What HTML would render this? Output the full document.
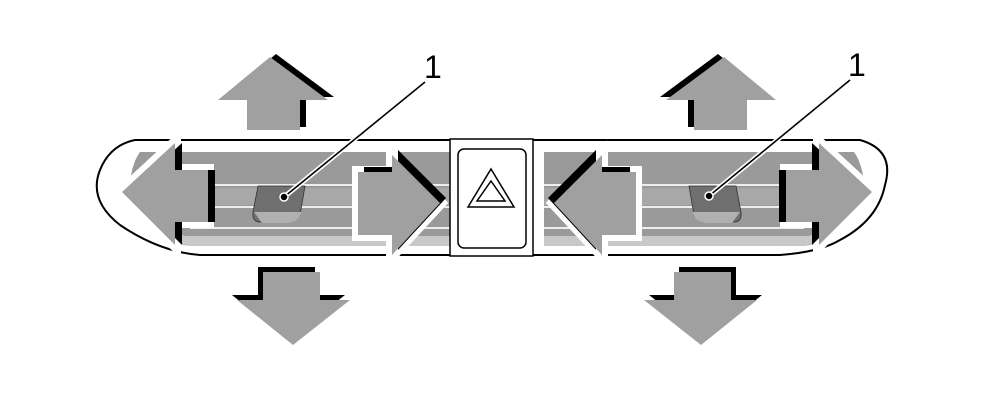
<!DOCTYPE html>
<html><head><meta charset="utf-8"><style>html,body{margin:0;padding:0;background:#fff}svg{display:block}</style></head>
<body>
<svg width="984" height="405" viewBox="0 0 984 405" xmlns="http://www.w3.org/2000/svg">
<path d="M135,140 L860,140 Q895,150 885,185 Q878,220 840,240 Q820,252 780,255 L200,255 Q160,252 120,225 Q88,200 100,170 Q110,145 135,140 Z" fill="#fff" stroke="#000" stroke-width="2"/>
<g>
  <path d="M140,152 L450,152 L450,246 L190,246 Q150,240 128,200 Q130,165 140,152 Z" fill="#9a9a9a"/>
  <path d="M130,175 Q135,215 185,236 L450,236 L450,246 L190,246 Q145,235 130,175 Z" fill="#c8c8c8"/>
  <rect x="190" y="188" width="260" height="17" fill="#a8a8a8"/>
  <rect x="190" y="184" width="260" height="2" fill="#eee"/>
  <rect x="190" y="206" width="260" height="2" fill="#eee"/>
  <rect x="190" y="227" width="260" height="2" fill="#eee"/>
  <path d="M258,186 L305,186 L300,215 Q295,222 288,222 L260,222 Q252,222 253,212 Z" fill="#6f6f6f" stroke="#333" stroke-width="0.8"/>
  <path d="M254,212 L302,212 L298,219 Q292,223 286,223 L262,223 Z" fill="#b0b0b0"/>
  <g fill="#fff" stroke="#fff" stroke-width="12">
    <path d="M270,57 L328,100 L300,100 L300,130 L247,130 L247,100 L218,100 Z"/>
    <path d="M263,272 L320,272 L320,300 L350,300 L293,345 L237,300 L263,300 Z"/>
    <path d="M122,192 L175,143 L175,170 L208,170 L208,222 L175,222 L175,245 Z"/>
    <path d="M440,203 L392,155 L392,172 L358,172 L358,235 L392,235 L392,255 Z"/>
  </g>
  <path transform="translate(6,-3)" d="M270,57 L328,100 L300,100 L300,130 L247,130 L247,100 L218,100 Z" fill="#000"/>
  <path transform="translate(-5,-5)" d="M263,272 L320,272 L320,300 L350,300 L293,345 L237,300 L263,300 Z" fill="#000"/>
  <path transform="translate(7,0)" d="M122,192 L175,143 L175,170 L208,170 L208,222 L175,222 L175,245 Z" fill="#000"/>
  <path transform="translate(6,-5)" d="M440,203 L392,155 L392,172 L358,172 L358,235 L392,235 L392,255 Z" fill="#000"/>
  <g fill="#a0a0a0">
    <path d="M270,57 L328,100 L300,100 L300,130 L247,130 L247,100 L218,100 Z"/>
    <path d="M263,272 L320,272 L320,300 L350,300 L293,345 L237,300 L263,300 Z"/>
    <path d="M122,192 L175,143 L175,170 L208,170 L208,222 L175,222 L175,245 Z"/>
    <path d="M440,203 L392,155 L392,172 L358,172 L358,235 L392,235 L392,255 Z"/>
  </g>
</g>
<g transform="translate(994,0) scale(-1,1)">
  <path d="M140,152 L450,152 L450,246 L190,246 Q150,240 128,200 Q130,165 140,152 Z" fill="#9a9a9a"/>
  <path d="M130,175 Q135,215 185,236 L450,236 L450,246 L190,246 Q145,235 130,175 Z" fill="#c8c8c8"/>
  <rect x="190" y="188" width="260" height="17" fill="#a8a8a8"/>
  <rect x="190" y="184" width="260" height="2" fill="#eee"/>
  <rect x="190" y="206" width="260" height="2" fill="#eee"/>
  <rect x="190" y="227" width="260" height="2" fill="#eee"/>
  <path d="M258,186 L305,186 L300,215 Q295,222 288,222 L260,222 Q252,222 253,212 Z" fill="#6f6f6f" stroke="#333" stroke-width="0.8"/>
  <path d="M254,212 L302,212 L298,219 Q292,223 286,223 L262,223 Z" fill="#b0b0b0"/>
  <g fill="#fff" stroke="#fff" stroke-width="12">
    <path d="M270,57 L328,100 L300,100 L300,130 L247,130 L247,100 L218,100 Z"/>
    <path d="M263,272 L320,272 L320,300 L350,300 L293,345 L237,300 L263,300 Z"/>
    <path d="M122,192 L175,143 L175,170 L208,170 L208,222 L175,222 L175,245 Z"/>
    <path d="M440,203 L392,155 L392,172 L358,172 L358,235 L392,235 L392,255 Z"/>
  </g>
  <path transform="translate(6,-3)" d="M270,57 L328,100 L300,100 L300,130 L247,130 L247,100 L218,100 Z" fill="#000"/>
  <path transform="translate(-5,-5)" d="M263,272 L320,272 L320,300 L350,300 L293,345 L237,300 L263,300 Z" fill="#000"/>
  <path transform="translate(7,0)" d="M122,192 L175,143 L175,170 L208,170 L208,222 L175,222 L175,245 Z" fill="#000"/>
  <path transform="translate(6,-5)" d="M440,203 L392,155 L392,172 L358,172 L358,235 L392,235 L392,255 Z" fill="#000"/>
  <g fill="#a0a0a0">
    <path d="M270,57 L328,100 L300,100 L300,130 L247,130 L247,100 L218,100 Z"/>
    <path d="M263,272 L320,272 L320,300 L350,300 L293,345 L237,300 L263,300 Z"/>
    <path d="M122,192 L175,143 L175,170 L208,170 L208,222 L175,222 L175,245 Z"/>
    <path d="M440,203 L392,155 L392,172 L358,172 L358,235 L392,235 L392,255 Z"/>
  </g>
</g>
<rect x="450" y="139" width="83" height="117" fill="#fff" stroke="#000" stroke-width="1.5"/>
<rect x="458" y="149" width="68" height="99" rx="6" fill="#fff" stroke="#000" stroke-width="1.5"/>
<path d="M491,169 L514,207 L468,207 Z" fill="none" stroke="#000" stroke-width="1.5"/>
<path d="M491,181 L505,201 L477,201 Z" fill="none" stroke="#000" stroke-width="1.5"/>
<path d="M284,197 L425,82 M709,196 L850,80" stroke="#fff" stroke-width="5" fill="none"/>
<path d="M284,197 L425,82 M709,196 L850,80" stroke="#000" stroke-width="1.6" fill="none"/>
<circle cx="284" cy="197" r="4" fill="#000" stroke="#fff" stroke-width="1.5"/>
<circle cx="709" cy="196" r="4" fill="#000" stroke="#fff" stroke-width="1.5"/>
<text x="424" y="78" font-family="Liberation Sans, sans-serif" font-size="32" fill="#000">1</text>
<text x="848" y="76" font-family="Liberation Sans, sans-serif" font-size="32" fill="#000">1</text>
</svg>
</body></html>
